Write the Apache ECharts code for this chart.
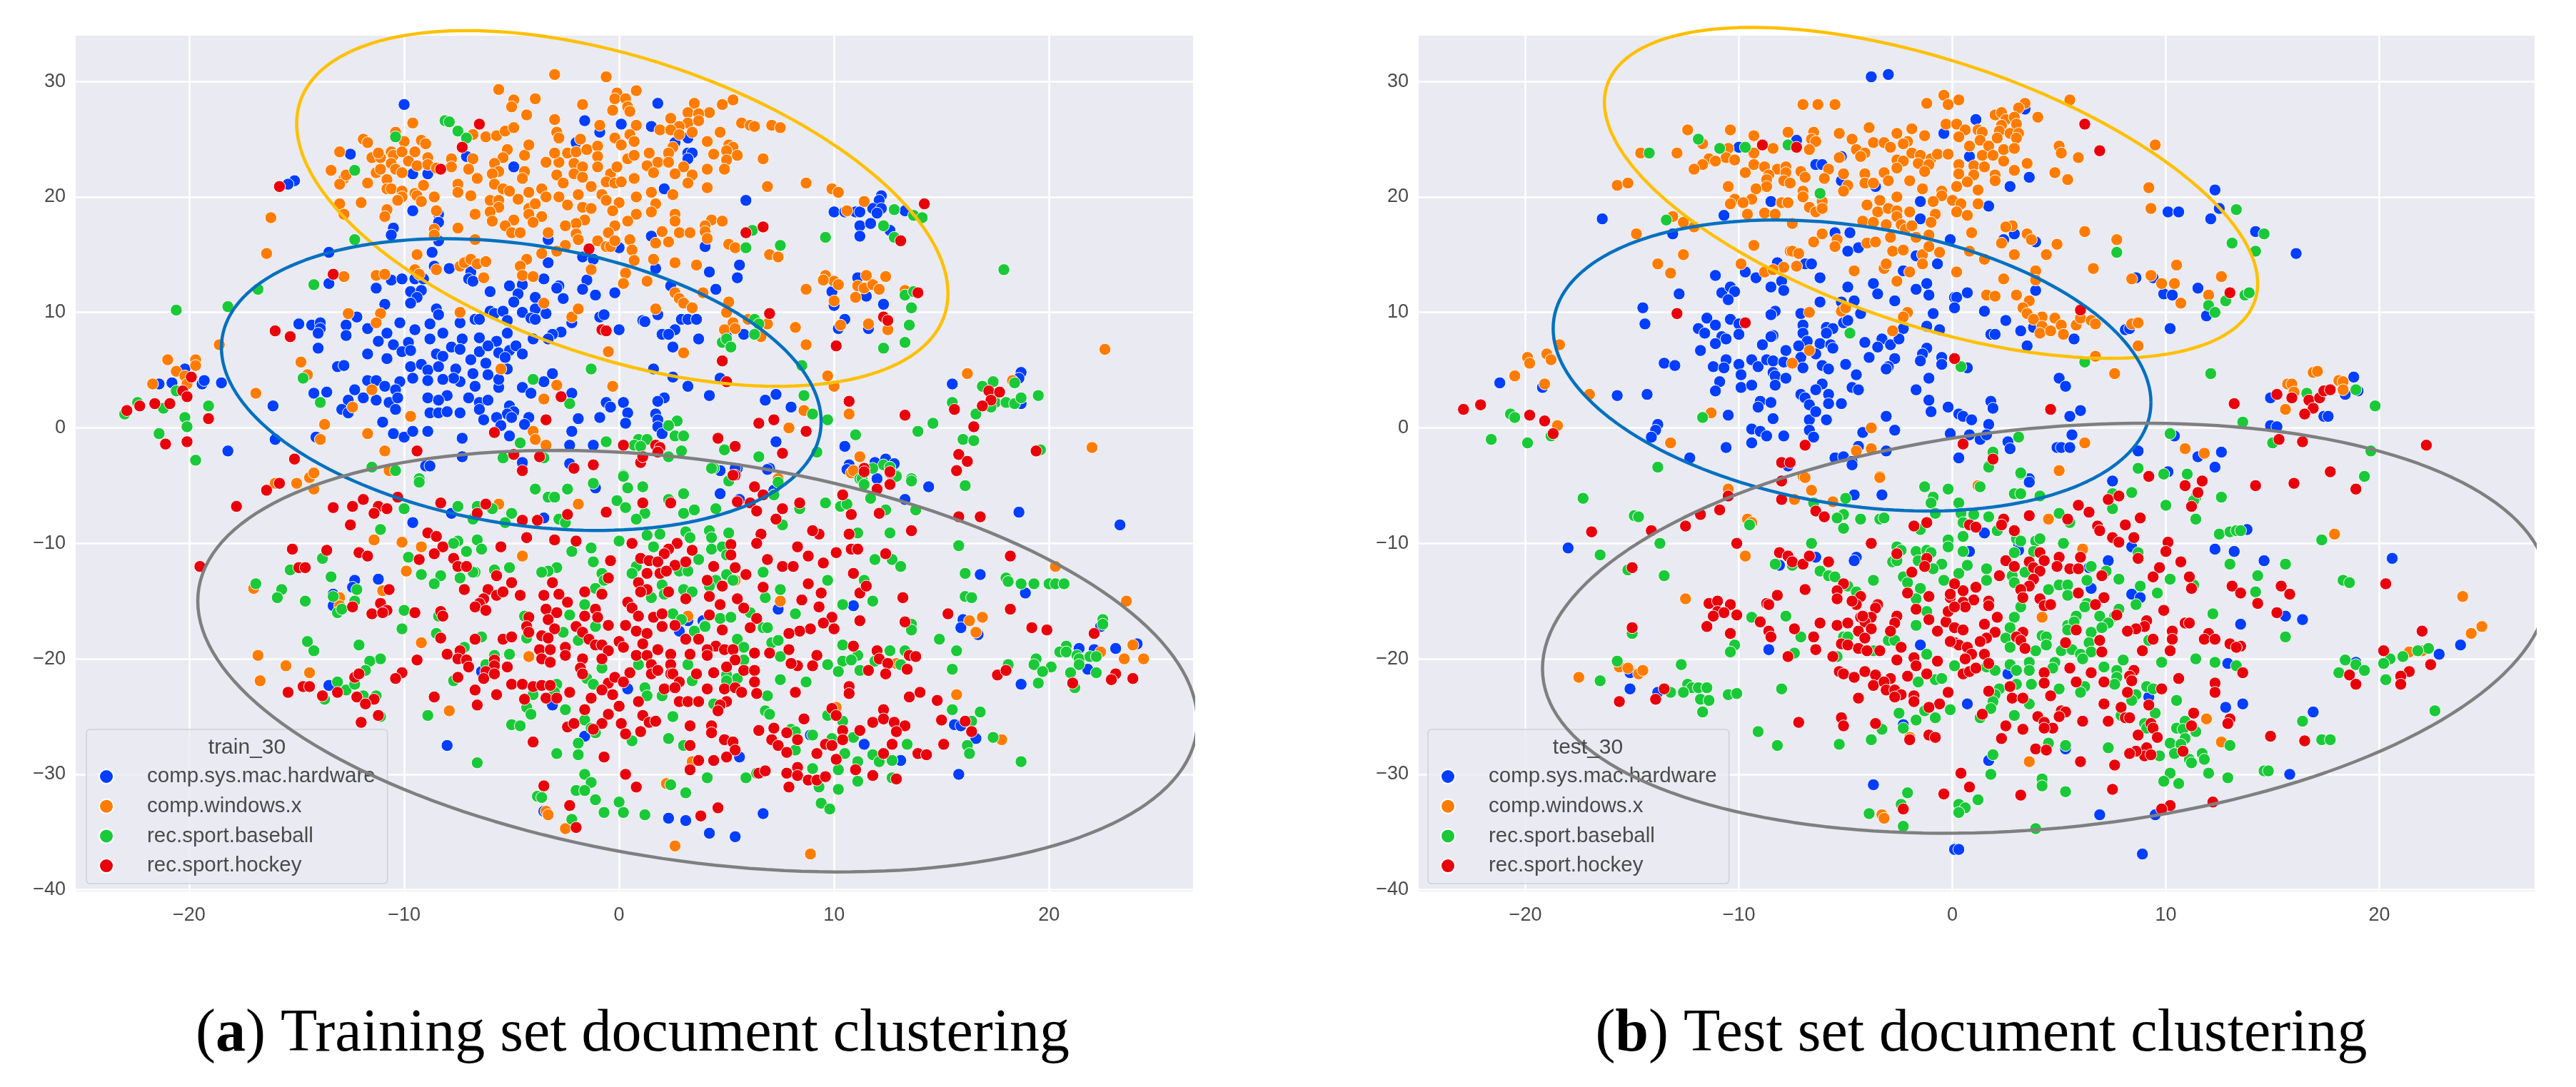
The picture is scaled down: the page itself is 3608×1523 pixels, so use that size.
<!DOCTYPE html>
<html><head><meta charset="utf-8"><style>html,body{margin:0;background:#fff}#c{width:3608px;height:1523px}</style>
<script src="https://cdn.jsdelivr.net/npm/echarts@6/dist/echarts.min.js"></script></head><body><div id="c"></div><script>
const categories=["comp.sys.mac.hardware","comp.windows.x","rec.sport.baseball","rec.sport.hockey"];
const colors=["#023eff","#ff7c00","#1ac938","#e8000b"];
const xTicks=[-20,-10,0,10,20];
const yTicks=[-40,-30,-20,-10,0,10,20,30];
const trainMac=[-10,28,-1.6,26.6,.1,26.3,-.9,25.6,-2,24.7,-12.5,23.7,-7.1,23.5,-4.9,22.6,-9.6,22,-8.9,22,-15.1,21.4,-15.4,21.1,-9.6,18.8,-8.4,18.5,-8.4,17.8,-10.5,17.3,-10.6,16.7,-8.4,16.2,-8.7,15.2,-13.5,15.2,-3.3,16.3,0,15.6,-1.7,14.8,-1.2,14.6,-3.3,14.3,-8.6,14,-7.9,13.8,-6.9,13.5,-3.5,12.9,-1.5,12.8,-1.7,12,-5.1,12.3,-4.5,12.4,-2.8,12.3,-2.9,12.1,-7,12.9,-6.8,12.7,-10.6,12.8,-11.3,12.1,-10.1,12.9,-9.5,12.9,-9.1,12.9,-13.5,12.5,-6,11.8,-9.7,11.8,-9.2,11.9,-9.4,11.3,-9.7,10.8,-10.9,10.7,-4.7,11.6,-4.9,10.9,-3.9,11.3,-2.6,11.2,-1.1,11.5,-.2,11.7,-8.5,10.3,-8.4,9.8,-6,10.1,-5.8,9.9,-5.4,10.1,-4.5,10,-3.9,10.3,-3.4,9.9,-12.2,9.6,-14.9,9,-14.3,8.9,-13.9,9.1,-13.9,8.6,-14,8.2,-12.7,8.9,-12.7,8,-11.7,8.6,-10.2,9.1,-8.8,9,-9.5,8.5,-7.4,9.1,-6.7,9.4,-6.5,9.4,-5.2,9.3,-4.1,9.5,-3.9,9.4,-.9,9.6,-.7,9.8,-2.2,9.1,-2.7,8.3,-3.1,8.1,0,8.5,1.1,9.3,-10.8,8.2,-8.8,7.7,-8.2,8.2,-11.2,7.5,-9.8,7.4,-10.5,7.2,-7.3,7.7,-6.5,7.8,-5.7,7.5,-5.2,8.2,-14,6.9,-11.7,6.4,-10.8,6,-10.1,6.6,-9.7,6.7,-8.5,6.4,-8.2,6.2,-7.8,7,-7.4,6.8,-6.5,6.6,-6.1,7.1,-5.6,6.5,-5.1,6.7,-4.8,7.1,-4.5,6.4,-6.9,5.9,-6.2,5.6,-5.3,6.1,-4,7.7,-3.3,7.7,-13.1,5.3,-12.8,5.4,-9.7,5.3,-9.2,5.5,-8.9,5,-8.4,5.3,-7.6,5.1,-6.8,4.7,-6.1,4.6,-5.2,5.1,-7.4,4,-7.7,4.3,-9.6,4.3,-8.9,4.1,-8.2,4.2,-11.7,4.1,-11.3,4.1,-10.2,4,-12.3,3.3,-10.9,3.6,-10.4,3.3,-14.2,3,-13.6,3.1,-6.7,3.6,-5.6,3.5,-4.5,3.5,-4.1,3,-3.1,4.7,-3.5,4,-2.2,3,-5.6,4.2,-8,2.8,-8.9,2.6,-8.4,2.4,-11.9,2.6,-11.3,2.4,-10.7,2.2,-10.3,2.6,-12.6,2.4,-12.9,1.6,-10.4,1.6,-16.1,1.9,-12.6,1.3,-8.8,1.3,-8.4,1.3,-8,1.4,-7.4,1.3,-7,2.6,-6.5,2.2,-6.1,2.4,-6.5,1.6,-6.3,.7,-5.1,1.9,-4.9,1.4,-5.2,1.2,-5,.9,-5.7,.9,-4.2,.9,-4.4,.3,-5.5,.2,-5.1,-.7,-1.9,.8,-.9,.9,-.6,2.2,-.4,1.8,.2,2.2,.4,1.3,.3,.4,-2.2,-.3,-11,.5,-10.5,-.5,-10,-.8,-9.6,-.3,-8.9,-.3,-14.1,-.8,-16,-1,-7.3,-.9,-2.3,-1.5,-1.2,-1.5,-18.2,-2,-21.4,3.8,-20.8,3.9,-19.4,3.8,-19.3,4.1,-18.5,3.9,-20.2,5.1,-7.3,-2.5,-9,-3.3,-8.8,-3.3,-4.5,-3,-2.3,-3.1,
1.8,28.1,1.5,26.1,3.2,25.1,2.6,24.7,3.2,23.8,3.4,23.8,3.2,23.3,2.1,20.7,5.9,19.7,10,18.7,10.5,18.7,11,18.7,11.2,18.7,12.2,20.1,12.1,19.7,11.8,19,12.2,19,12,18.6,13.3,18.8,11.2,17.5,11.7,17.7,11.2,16.6,12.6,17.1,1.5,16.6,4,15.7,1.7,13.8,4.2,13.5,5.6,14.1,5.5,13,2.4,12.3,4.5,12,11.1,13,9.9,11.8,11.5,11.4,12.3,10.7,10,10.6,1.2,9.2,1.8,9.8,2.9,9.4,3.2,9.4,3.6,9.4,2.6,8.5,2,8.1,2.3,8.1,3.7,7.7,2.5,7,5.8,8.1,5,7.9,10.5,9.4,10.2,8.6,11.6,8.6,1.6,5.1,2.5,4.4,4.7,4.3,3.2,3.6,4.2,2.8,18.7,4.8,18.6,4.3,15.5,3.8,7.3,2.9,6.8,2.4,8,1.8,2.1,2.6,1.8,2.3,1.7,1.2,1.8,.7,1.8,.1,2,-.5,7.3,-1.2,10.5,-1.6,10.7,-3.2,11.9,-3,12.4,-2.7,12.8,-3.1,12,-4.4,7,-3.5,4.7,-3.7,5.5,-3.5,18.7,2.1,
-7.8,-7.4,-9.6,-8.2,-3.5,-7.8,-1.1,-5.2,-12.3,-13.2,-11.2,-13.1,-12.4,-13.8,-13.3,-14.4,-13.3,-15.4,-6.4,-21.1,-13.5,-22.3,-3.1,-24,-1.6,-26.7,-8,-27.5,-3.5,-33.2,
4.7,-3.7,5.4,-3.5,6.9,-3.6,10.6,-3.6,12,-4.4,14.4,-5.1,4.7,-5.7,5.6,-6.2,13.3,-6.2,7.2,-5.4,18.6,-7.3,23.3,-8.4,16.8,-12.7,18.9,-14.3,7.4,-15.7,10.9,-15.4,3.2,-16.7,2.8,-17.6,3.9,-16.7,16,-16.6,15.9,-17.3,16.7,-17.9,22.4,-17.2,21.4,-19.1,22.1,-19.2,23.1,-19.1,24.1,-18.7,21.8,-20.9,18.7,-22.2,.4,-22.6,15.6,-25.7,15.9,-25.8,16.6,-26.9,8.9,-26.6,11.4,-27.4,5.6,-28.5,13.1,-28.8,15.8,-30,6.7,-33.4,2.3,-33.8,3.1,-34,4.2,-35.1,5.4,-35.4];
const trainWin=[-3,30.6,-.6,30.4,-5.6,29.3,-3.9,28.5,-4.9,28.4,-5,27.8,-4.3,27.1,-1.7,28,-.1,29,.8,29.2,-.2,28.5,.3,28.5,.4,27.8,-.3,27.5,.5,27.4,-3,26.7,-.9,26.2,.8,26.2,-2.9,25.6,-2.8,25.1,-9.6,26.4,-10.4,25.6,-11.9,25,-11.7,24.7,-13,23.9,-13.4,22.3,-12.8,21.6,-13,21.1,-12.7,21.9,-11.7,21.2,-11.3,22.1,-11.1,22.4,-11.5,23.4,-11.1,23.4,-11.2,23.8,-10.6,23.9,-10.5,23.6,-10.6,22.9,-10.4,22.4,-10.1,22.1,-10,24.8,-9.2,24.9,-9,24.6,-10.1,23.9,-9.5,23.9,-8.9,23.4,-9.8,23.1,-9.4,22.7,-8.9,22.8,-8.5,22.5,-7.8,23.3,-7.8,22.6,-10.8,21.5,-10.8,20.7,-10.6,20.7,-9.1,21,-10.1,20.5,-10.1,20,-10.3,19.7,-9.5,20.3,-9.4,20.1,-9.2,19.6,-8.6,20,-13,19.4,-12,19.5,-12.8,18.5,-10.8,18.9,-10.9,18.3,-8.5,18.8,-6.7,18.5,-7.5,17.3,-8.6,17.2,-8.6,16.7,-6.7,16.3,-16.2,18.2,-16.4,15.1,-9.4,15,-9.5,13.7,-9.3,13.3,-8.5,13.7,-11.3,13.2,-10.9,13.3,-12.8,13.1,-7.4,14,-7.2,14.3,-6.9,14.6,-6.6,14.2,-6.2,14.4,-6.3,13,
-6.8,23.3,-7,22.4,-6.6,21.6,-7.5,21.1,-7.5,20.4,-6.9,20.1,-6.8,25.4,-6.2,25.2,-5.7,25.3,-5.3,25.7,-4.9,26,-5.2,24.1,-5.4,23.4,-4.4,23.6,-4.2,24.5,-5.8,22.9,-5.6,22.2,-5.9,22,-5.8,21.1,-5.4,20.7,-5.1,20.5,-4.4,22.2,-4.5,21.6,-4.2,20.4,-4.7,19.8,-6,19.7,-5.6,19.7,-5.6,19.1,-6,18.7,-5.9,17.9,-4.9,18,-5.3,17.5,-5,16.9,-4.6,16.9,-4.2,19,-4.2,18.5,-3.9,19.4,-3.6,20.7,-3.4,20,-3.6,18.3,-4,17.8,-3.3,16.9,-3.4,23,-2.8,23,-3,23.8,-2.4,23.8,-2,23.9,-1.5,24.1,-1.8,25,-1,24.4,-.2,25.1,.5,25.4,.7,24.8,.1,24.5,-2.1,22.9,-1.7,22.6,-1,23.5,-1,22.6,-2.1,22,-2.9,21.9,-2.6,21.2,-1.7,21.7,-1.3,20.9,-1.9,20.2,-2.8,20,-2.4,19.3,-1.7,19.1,-1.3,19,-.4,22,-.6,21.3,-.2,21.2,.1,21.3,-.8,20.2,-.6,19.7,0,19.5,-.3,18.8,.8,20,.8,18.5,.7,21.6,.4,23.3,.7,23.6,-.1,22.6,-1.6,18,-2,17.7,-2.5,17.5,.4,17.9,-.2,17.5,-.5,16.9,-2,16.8,-1.9,16.3,.5,16.3,-1,16.2,-.6,15.7,-.4,15.7,-.2,16.2,.6,15.4,-2.5,15.8,-3.6,15.1,-2.9,15.3,-4.3,14.6,-4.6,14,-4.5,13.2,-4,13.1,-1.3,13.7,.7,14.5,.3,13.4,.2,12.5,-3.5,10.8,-7.4,10,-2.2,9.6,-1.9,10.3,-12.6,9.9,-11.1,9.9,-11.3,9.1,-.5,6.6,-18.6,7.2,-14.8,5.7,-14.5,4.6,-21,5.9,-19.7,5.9,-19.7,5.4,-20.6,4.9,-20.2,4.5,-21.7,3.8,-20.1,3.8,-16.9,3,-5.5,5.1,-11.5,3.3,-12.4,1.8,-9.7,1,-2.9,3.7,-.3,3.6,-3.5,2.5,-13.7,.3,-11.7,-.5,-13.9,-1,-10.9,-2,-4,-.3,-3.9,-1,-3.4,-1.5,
3.5,28.1,4.8,28,5.3,28.4,4.2,27.3,3.2,27.3,3.7,27.2,2.4,26.8,3.2,26.4,2.8,26.1,3.7,26.6,1.9,25.8,2.4,25.8,2.8,25.4,3.4,25.6,4.7,25.6,5.7,26.4,6.1,26.2,6.3,26.1,7.1,26.2,7.5,26,4.1,24.8,5.1,24.5,5.3,24.3,5,24,5.5,23.6,4.4,23.7,1.4,23.8,2.5,24.3,2.3,23.8,6.7,23.3,5,23.2,1.8,23,2.3,23,1.3,22.7,3,22.6,4.1,22.4,4.9,22.4,1.6,22.1,2.6,22,3.4,21.9,3.2,21.2,4.1,20.8,6.9,20.9,1.5,20.4,2.5,20.2,8.7,21.2,9.9,20.7,10.2,20.4,1.7,19.4,1.5,18.7,2.6,18.5,2.6,17.9,4.3,18,4.8,17.9,4,17.5,4,17,4.1,16.4,2,17,2.8,16.9,3.3,16.9,2.3,16.1,1.7,16,5.1,15.9,5.4,15.6,7,15,7.4,14.8,1.6,14.6,2.6,14.3,3.6,14.1,11.4,19.6,10.6,18.8,9.6,13.2,10,12.7,9.5,12.8,10.2,12.4,8.7,12,10,11,11.1,12.3,11.4,12.1,11.8,12.4,11.5,13.2,12.4,13.1,11,11.3,12.1,12,13.3,11.9,1.3,12.7,2.6,11.7,2.8,11.2,3,10.8,3.4,10.4,1.7,10.3,3.9,11.7,5.1,10.9,5,10,5.3,9.1,4.9,8.5,5.4,8.6,6,9.4,6.9,9,8.2,8.7,10.3,8.9,11.6,9,12.5,8.5,8.7,7.2,3,6.5,6.6,7.9,9.7,4.5,10,3.6,16.2,4.7,18.3,4.1,22.6,6.8,8.6,1.5,10.7,1.2,7.9,0,22,-1.7,11.2,-2.5,10.8,-3.9,
-16,-4.8,-15,-4.8,-14.4,-4.3,-14.2,-3.9,-14.2,-5.3,-10.7,-3.7,-5.6,-6.6,-1.9,-6.6,-11.4,-9.7,-10.1,-9.9,-9.2,-10.3,-4.5,-11.1,-9.9,-12.4,-17,-13.9,-13,-14.7,-13,-15.4,-11,-14.1,-9.2,-18.6,-16.8,-19.7,-15.5,-20.6,-14.4,-21.2,-16.7,-21.9,-4.2,-19.8,-7.9,-24.5,-3.4,-33.2,-3.3,-33.5,-2.5,-34.7,
10.9,-3.7,7.4,-4.4,20.3,-12,23.6,-15,5.4,-13.2,7.5,-15,3.2,-16.3,16.3,-16.7,16.9,-16.4,16.6,-17.7,23.9,-18.8,22.4,-19.4,23.5,-20,24.4,-20,12.9,-20.4,15.7,-23.1,10.1,-24.2,17.8,-27,3.4,-28.9,2.2,-30.8,2.6,-36.2,8.9,-36.9];
const trainBase=[-8.1,26.6,-7.9,26.5,-7.5,25.7,-7.1,25.1,-10.4,25.2,-12.3,22.3,-12.3,16.3,-16.8,12,-14.2,12.4,-20.6,10.2,-18.2,10.5,-14.7,4.3,-20.6,3.2,-22.4,2.2,-21.2,1.7,-23,1.2,-19.1,1.9,-20.2,.9,-20.1,.1,-21.4,-.5,-19.7,-2.8,-13.9,2.2,-4,4.2,-2.3,2.1,-1.3,5.1,-4.6,-1.3,-5.4,-2.6,-3.5,-2.6,-.6,-1.2,.9,-1,.7,-1.5,-11.5,-3.4,-10.4,-3.7,-9.3,-4.4,.2,-4.1,
12.8,18.9,13.7,18.4,14.1,18.2,12.3,17.5,12.8,16.5,9.6,16.5,6.2,17.1,5.9,15.6,7.5,15.8,17.9,13.7,13.3,11.5,13.7,11.8,13.6,10.4,13.5,8.9,13.3,7.4,12.3,6.9,6.3,9.4,6.5,9,6.3,8.1,4.8,7.4,5,7.7,5.2,7,8.5,5.4,8.6,2.8,9,1.2,9.7,.7,2.7,.6,2.3,.2,2.6,-.7,3,-.7,1.3,-1,1,-1.6,2.9,-2,2.3,-2.5,4.9,-1.9,6.5,-2.5,4.4,-3.5,9.2,-2.1,11,-.6,13.9,-.3,14.6,.4,15.5,2.2,16.6,1.2,16,-1,16.5,-1.1,16.9,3.6,17.4,4,18.4,3.9,17.5,2.2,17.3,1.8,18,2.2,18.4,2.1,18.7,2.6,19.5,2.8,19.6,-1.9,12.3,-3.2,12.6,-3.4,12.9,-4.1,11.2,-4.4,13.6,-4.4,
-9.3,-4.7,-3.9,-5.3,-3.3,-6,-3,-6,-2.4,-5.3,-1.2,-4.8,-7.5,-6.8,-10,-7,-6.6,-6.8,-5.9,-7,-5,-7.4,-6.8,-7.9,-5.3,-8.2,-2.8,-7.9,-2.5,-8.2,-11.1,-8.8,-7.5,-9.8,-6.6,-9.7,-7.7,-10,-7.1,-10.7,-6.4,-10.5,-9.8,-11.2,-13.8,-11.3,-15.3,-12.3,-1.3,-10.4,-2.2,-10.7,-1.2,-11.6,-5.1,-12.1,-5.8,-12.3,-6.7,-12.5,-2.9,-12.1,-3.3,-12.4,-3.6,-12.5,-.8,-12.6,-.7,-13.2,-1.1,-13.9,-13.4,-12.9,-9.2,-12.7,-8.3,-12.8,-8.6,-13.5,-7.4,-13,-6.8,-12.5,-16.9,-13.5,-15.7,-14,-15.9,-14.7,-14.6,-15,-13.3,-14.6,-12.2,-14,-12.3,-15,-13.1,-16,-12.9,-15.7,-10,-15.8,-10.1,-17.4,-8.4,-16.3,-8.5,-17.8,-6.4,-18.1,-4.4,-16.3,-2.3,-16.2,-1.6,-15.3,-.8,-14.3,-1.1,-17.2,-2.6,-17.7,-4.3,-18.2,-1.9,-18.4,-14.5,-18.5,-14.2,-19.3,-12.1,-18.8,-7.2,-19,-5.1,-19.6,-5.8,-19.7,-11.1,-20,-11.6,-20.2,-11.8,-21,-6.2,-20.5,-.8,-20.8,-1.5,-21.7,-1.2,-22.2,-13.1,-22,-12.7,-22.7,-12.3,-22.2,-7.7,-21.9,-13.7,-23.5,-11.9,-23.2,-11.3,-23.2,-4,-23.1,-2.9,-22.2,-3,-22.9,-4.3,-24.2,-4.1,-24.8,-2.5,-24.4,-11.1,-25,-8.9,-24.9,-5,-25.7,-4.6,-25.8,-1.6,-25.3,-1.3,-26,-1.1,-26.4,-1.9,-27.3,-2.9,-28.2,-1.9,-28.3,-6.6,-29,-1.6,-30,-1.3,-30.7,-2,-31.4,-1.6,-31.4,-3.8,-31.9,-3.6,-32,-1.1,-32.2,-.7,-33.3,-2.2,-33.9,
4.3,-3.5,5.1,-4.6,.2,-4.2,.4,-5.2,1.1,-5.1,-.1,-6.3,.3,-6.9,1.2,-7.4,.8,-7.9,2.3,-6.2,3,-5.7,3,-7.4,3.5,-7.1,4.5,-7,7.2,-5.8,7.4,-4.7,11.3,-4.4,11.4,-4.9,11.8,-3.5,13.6,-4.6,16.1,-5,12.9,-4.2,9.6,-6.5,10.3,-6.8,10.6,-6.6,11.7,-6.1,12.4,-7.1,13.8,-7.1,7.6,-8.4,8.4,-7,11.1,-9.1,12.6,-9.1,1.3,-9.3,1.9,-9.2,1.6,-10.3,0,-9.8,3.1,-9,3.3,-9.5,4.2,-8.9,4.3,-9.5,5.1,-9.1,4.3,-10.5,4.8,-10.3,5,-11,3.7,-11.4,15.8,-10.2,11.9,-11.4,12.7,-11.4,13.1,-12,.8,-12,.6,-12.6,2.8,-12.4,3.2,-12.4,6.7,-12.5,4.5,-13.2,5,-12.7,4.2,-13.7,5.3,-13.2,16.1,-12.6,11.4,-13.2,9.7,-13.2,18,-13,18.1,-13.3,18.7,-13.5,19.3,-13.5,20,-13.5,20.3,-13.5,20.7,-13.5,2,-13.6,3,-14,3.4,-14.2,2.1,-14.4,1.5,-14.7,7.5,-14,6.8,-14.7,11.8,-15,10.4,-15.3,16.1,-14.6,16.4,-14.7,8.2,-16.1,2.5,-16.1,2.9,-16.6,4,-17.1,4.7,-16.5,5.2,-16.4,6.1,-16,6.7,-17.3,6.9,-17.3,3.5,-17.6,4,-17.2,13.6,-17,13.6,-17.5,22.5,-16.6,22.5,-17,14.9,-18.3,5.5,-18.3,5.8,-19,7.1,-18.6,7.4,-18.4,10.4,-18.8,11.1,-19.7,12.6,-19.3,13.3,-19.3,15.7,-19.3,20.8,-18.9,20.5,-19.4,20.8,-19.4,21.3,-19.7,21.4,-20,21.9,-19.8,22.2,-19.8,21.4,-20.5,19.4,-20,19.3,-20.5,20.1,-20.7,19.7,-21.1,18.1,-20.5,21,-21.2,22.2,-21.2,19.5,-22.1,21.2,-22.5,15.5,-20.9,7.5,-19.8,5.8,-20.1,9.7,-20.5,10.4,-20.2,10.8,-20.1,10.2,-21.1,11.2,-21,11.9,-20.2,13.1,-20.5,7.5,-21.8,8.7,-22,3.2,-20.5,.9,-20.5,3.4,-21.9,5,-21.4,5.5,-21.7,5,-21.9,1.2,-22.5,1.3,-23.2,2,-23.2,6.9,-23.2,6.8,-24.5,7,-24.8,4.4,-23.9,2.5,-25,15.5,-24.4,16.8,-24.6,16.4,-25.4,10.4,-25.4,9.7,-24.9,8,-26.1,8.2,-26.3,9,-26.6,.6,-27.1,2.3,-26.9,3,-27.5,10.9,-26.8,9.9,-26.9,10.5,-28.2,13.4,-27.4,16.2,-27.5,16.3,-28.2,17.4,-26.8,8.2,-27.9,11.8,-28.3,12.1,-28.9,12.7,-28.8,11.1,-28.9,18.7,-28.9,10.2,-29.6,9,-29.5,4.1,-30.3,5.9,-30.3,6.4,-29.9,11.1,-30.6,12.7,-30.3,2.4,-30.9,3.1,-31.6,9.3,-31.1,10.2,-31.3,0,-32.4,.2,-33.3,1.2,-33.5,9.4,-32.5,9.8,-33];
const trainHockey=[-6.5,26.3,-7.3,24.3,-8.3,22.4,-15.8,20.9,-1.4,15.5,-13.3,13.3,-16,8.4,-15.3,7.9,-.8,8.5,-.6,8.4,-19.9,4.4,-20.3,3.2,-20.1,2.7,-21.6,2.1,-20.9,2.1,-22.3,1.9,-22.9,1.5,-19.1,.8,-21.1,-1.4,-20.1,-1.2,-2.7,2.7,-3.4,.7,-5.8,-.4,-9.4,-2,-15.1,-2.7,-4.9,-2.3,-3.7,-2.5,.2,-1.5,-2.1,-3.5,-1.2,-3.2,-4.5,-3.7,1,-3,
14.2,19.4,13.1,16.2,6.7,17.4,5.9,16.9,13.9,11.7,7,9.9,12.3,9.6,12.5,9.3,10.1,7.1,4.8,5.8,5,4,17.2,3.2,17.7,3.1,17.3,2.4,16.9,1.9,15.6,1.6,13.3,1.1,10.7,2.3,6.5,.4,7.2,.7,8.7,-.3,16.5,.1,4.6,-.9,5.4,-1.6,1.7,-1.5,1.9,-1.7,1.8,-2.1,1.1,-2.5,7.6,-2.2,19.4,-2,15.8,-2.3,16.2,-2.9,15.7,-3.7,11.4,-3.5,12.6,-3.9,5.4,-4.1,
-16.4,-5.4,-15.8,-4.8,-17.8,-6.8,-13.3,-6.9,-12.4,-6.8,-11.9,-6.2,-11.2,-6.8,-10.8,-7,-11.4,-7.4,-12.5,-8.4,-10.3,-6,-8.3,-6.5,-6.6,-7.4,-6.2,-6.6,-4.5,-8,-3.8,-8,-2.4,-7.5,-.6,-7.3,-8.9,-9.1,-8.5,-9.4,-8.2,-10.3,-8.6,-10.9,-9.3,-11.4,-5.5,-10.3,-4.3,-9.5,-3,-9.7,-2,-9.8,-15.2,-10.5,-13.6,-10.6,-12.1,-10.8,-11.7,-11.1,-14.9,-12.1,-14.6,-12.1,-19.5,-12,-7.7,-11.3,-7.5,-12,-7.1,-12,-7.2,-14,-5.7,-12.8,-5,-13.4,-6.1,-14,-5.7,-14.5,-5.4,-14.2,-4.6,-14.5,-6.3,-14.8,-6.5,-15.2,-6.7,-15.5,-6.2,-15.8,-3.1,-13.4,-3.5,-14.5,-2.8,-14.4,-2.4,-15.1,-1.6,-14.2,-.8,-14.4,-.5,-13,-.4,-11.5,-10.7,-14,-11.1,-15.2,-10.8,-15.8,-11.5,-16.1,-11,-16,-12.4,-15.5,-9.5,-16,-8.3,-15.9,-8.2,-16.3,-3.4,-15.7,-2.9,-16,-3.3,-16.6,-4.2,-16.4,-1.6,-16.3,-1.1,-15.7,-1,-16.4,-.5,-17.1,-4.3,-17.2,-4.2,-17.7,-3,-17.4,-3.6,-18,-3.3,-18.2,-2,-17.2,-1.7,-17.7,-1.4,-18.3,-1.1,-18.8,-.8,-18.8,-.5,-19.3,-8.3,-18.2,-6.7,-18.3,-5.4,-18.3,-5,-18.1,-3.7,-19.2,-3.2,-19.2,-2.5,-19,-2.5,-19.7,-7.4,-19.3,-8,-19.6,-9.4,-20.1,-7.5,-20,-7.1,-20.1,-7,-20.7,-5.8,-20.1,-5.8,-20.6,-6.2,-21.1,-5.2,-20.7,-3.6,-20,-3.2,-20.3,-1.7,-20,-.8,-20,-1.8,-20.8,-1.7,-21.3,-10.1,-21.2,-10.4,-21.7,-12.3,-21.6,-12.1,-21.3,-7.5,-21.6,-6.3,-21.7,-5.8,-21.3,-5,-22.2,-4.5,-22.2,-4,-22.4,-3.6,-22.3,-3.2,-22.3,-.5,-22.1,-.8,-22.7,-14.7,-22.4,-14.4,-22.4,-15.4,-22.9,-13.8,-23.2,-13.1,-22.9,-12.2,-23.3,-11.4,-23.5,-11.8,-23.9,-6.7,-22.7,-5.7,-23.1,-8.6,-23.3,-6.6,-24,-4.4,-23.5,-3.4,-23.4,-2.9,-23.4,-2.3,-22.9,-1.3,-23.4,-1.6,-24.4,-.5,-24.8,-11.2,-24.9,-12,-25.5,-2.4,-25.9,-2.1,-25.6,-.8,-25.6,-1.2,-26.1,-4,-27.2,-.7,-28.5,-3.5,-31,-2.3,-32.7,-2,-34.6,
5.3,-4.1,6.3,-5.1,6.7,-5.8,10.4,-5.8,11.4,-3.8,12.6,-3.8,15.7,-3.7,12.6,-4.9,12,-5.3,1.1,-6.5,2.4,-6.5,5.5,-6.4,6.1,-6.5,6.4,-7.2,7.6,-7,7.3,-7.9,8.4,-6.5,10.8,-7.5,12.1,-7.4,15.8,-7.7,16.8,-7.7,13.6,-8.9,10.7,-9.2,9.3,-9.2,9,-8.9,6.6,-9.2,.6,-10,2.7,-10,2.3,-10.5,2.1,-10.9,3.4,-10.6,5.2,-10.1,6.4,-10,5.2,-11,8.3,-10.3,8.8,-11.1,9.5,-11.7,10.1,-10.8,10.8,-10.5,11.1,-10.5,12.4,-10.9,18.2,-11.1,1,-11.3,1.4,-11.5,1.8,-11.6,2.6,-11.9,3.1,-11.6,4.4,-12,5.4,-12.1,6.9,-11.4,7.6,-12,8.1,-12,5.9,-12.7,1.3,-12.6,1.9,-12.6,2.2,-12.4,10.9,-12.6,4.1,-13.2,4.8,-13.7,.9,-13.4,1.3,-14,1,-14.2,2.3,-14.2,6.7,-13.8,8.8,-13.5,9.4,-14.3,11.2,-14.3,11.5,-13.7,4.2,-14.6,3.1,-14.8,8.5,-14.9,9.3,-15.5,5.5,-14.8,5.8,-15.6,4.7,-15.3,13.2,-14.7,18.2,-15.7,15.3,-16.1,.4,-15.1,.6,-15.6,.9,-16.3,1.6,-16.4,2,-16.1,2.6,-17.1,4.2,-16.2,6.4,-16.5,13.3,-16.8,11.2,-16.7,9.9,-16.4,9.5,-16.9,10,-17.4,8.9,-17.4,8.4,-17.6,7.9,-17.8,6.1,-17.3,4.8,-17.5,.3,-17.1,.8,-17.6,1.3,-17.8,2,-17.2,19.2,-17.3,19.9,-17.5,22.1,-17.8,3.1,-18.3,3.7,-18.3,0,-18.5,.2,-19,1.1,-18.7,1.8,-19.2,10.9,-18.9,12,-19.3,13.5,-19.7,13.8,-19.8,7.9,-19.2,7,-19.5,6.3,-19.5,4.5,-18.9,4.9,-19.2,5.3,-19.2,4.1,-19.2,2.4,-19.6,3.3,-19.6,4.1,-19.7,.8,-19.7,1.3,-19.7,5.4,-20.1,9.2,-19.7,9,-20.6,8.3,-20.6,8,-20.4,12.1,-20,12.5,-20.4,13.4,-20.9,11.6,-21,12.4,-21.3,17.6,-21.4,18,-21,23.1,-21.3,22.9,-21.8,23.9,-21.7,21.1,-22.1,1.5,-20.5,2.4,-20.5,1.5,-21.3,2.4,-21.3,.5,-21.2,1.8,-21,2.5,-21.3,3.6,-21.3,4.4,-21.2,5,-20.7,5.8,-21,6.3,-21,-.2,-21.6,.2,-22,2.8,-22,6.3,-22,2.1,-22.6,2.6,-22.5,4.1,-22.6,4.9,-22.6,5.4,-22.5,6.4,-23,5.7,-22.9,8.2,-22.9,10.7,-22.4,10.7,-23,13.5,-23.3,14,-22.9,14.8,-23.6,-.3,-23.1,.9,-23.7,2.8,-23.7,3.2,-23.7,3.7,-23.7,5,-23.7,4.7,-24,4.6,-24.5,0,-24.1,9.9,-24.3,10.1,-24.9,12.3,-24.4,1.1,-24.9,1.4,-25.5,1.7,-25.4,.1,-25.6,3.3,-25.8,4.3,-25.8,8.6,-25.2,11.8,-25.5,12.3,-25.2,12.8,-25.5,13.3,-25.8,12.9,-26.3,15,-25.3,16.1,-25.4,16.4,-26.3,11.2,-26.2,10.4,-26.2,6.5,-26.2,7.2,-26,7.8,-26.4,.3,-26.5,1,-26.3,4.3,-26.4,4.9,-27,5.3,-27.2,8.3,-27,10.4,-27,7.1,-27,7.4,-27.5,7.8,-28.1,3.3,-27.5,9.6,-27.4,9.9,-27.5,12.7,-27.4,15.1,-27.4,9.2,-28.2,10.1,-28.7,12.3,-28.2,13.9,-28.2,14.3,-28.3,5.4,-27.9,5,-28.5,4.4,-28.8,3.7,-28.8,3.3,-29.6,.3,-30,6.5,-29.9,6.8,-29.7,8.3,-29.4,7.8,-29.9,8.3,-30.1,8.8,-30.5,9.2,-30.5,9.6,-30.2,7.9,-31.1,11,-29.6,11.8,-30.1,12.9,-30.4,.8,-31.1,4.6,-32.9,3.8,-33.6];
const testMac=[-3.8,30.4,-3,30.6,-.4,25.5,-7.3,24.9,-10,24.3,-5.2,23.5,-6.4,22.8,-6.1,22.8,-5.2,21.4,-3.6,20.9,-8.5,19.6,-1.5,19.6,-1.5,18.1,-10.7,18.4,-16.4,18.1,-13.1,16.8,-5.5,16.9,-4.8,16.9,-4.4,15.6,-4.9,15.3,-.1,16.3,-1.7,14.9,-.7,14.2,-8.2,14.3,-6.9,14.2,-6.6,14.2,-9.7,13.5,-9.2,13,-11.1,13.2,-8,12.7,-8.5,12.2,-7.9,11.9,-6.2,13,-4.9,12.2,-3.7,12.5,-3.5,11.6,-2.3,13.6,-1.2,12.5,-1.7,12,-1.1,11.5,-12.8,11.6,-10.8,11.7,-10.4,12.2,-10.2,11.8,-10.5,11.1,-6.2,10.9,-2.7,11,-4.6,11,-5.2,10.9,.1,11.3,.1,10.4,-14.5,10.4,-14.4,9,-8.3,10.1,-8.5,9.8,-7.1,9.9,-4.3,9.9,-.9,9.9,-11.5,9.5,-10.4,9.4,-10,9,-5.1,9.1,-4.9,9.3,-11.1,8.9,-11.9,8.6,-11.6,8.2,-10,8.1,-7,8.9,-7,8.2,-5.9,8.7,-5.6,8.6,-5.9,8.2,-2.3,8.6,-1.2,8.8,-.6,8.5,-10.8,7.9,-10.6,7.7,-11.1,7.3,-8.4,8,-8.5,7.9,-8.9,7.2,-6.8,7.5,-7.2,7.1,-6.2,7.3,-5.7,7.2,-5.6,6.9,-4.1,7.4,-3.3,7.7,-3.5,7,-2.9,7.2,-2.5,7.7,-11.8,6.7,-7.8,6.7,-7.1,6.1,-6.4,6.4,-1.2,6.9,-1.4,6.4,-1.5,5.8,-3.9,6.1,-2.7,6,-.5,6.1,-.5,5.5,-13.5,5.6,-13,5.4,-10.6,5.9,-11.2,5.3,-10.7,5.2,-10,5.5,-9.4,5.9,-9.1,5.3,-8.7,5.9,-8.4,5.8,-7.9,5.7,-7,5.2,-6.1,5.4,-5.8,5.1,-5,5.5,-3,5.3,-3.1,5.1,-9.9,4.6,-8.4,4.8,-8.3,4.5,-7.8,4.3,-8.3,3.7,-4.5,4.6,-1.1,4.3,-10.9,4,-11.1,3.2,-9.9,3.5,-9.4,3.7,-6.1,3.8,-6.4,3.3,-4.7,3.5,-4.4,3.3,-1.7,3.3,-21.2,3.9,-19.2,3.5,-15.7,2.8,-14.3,2.9,-7.1,2.9,-6.9,2.6,-5.8,2.9,-1.1,2.4,-9,2.3,-8.5,2.2,-9.1,1.8,-6.7,2,-5.8,2.1,-5.2,2.1,-.2,1.8,-1,1.4,-10.5,1.1,-8.4,.8,-6.7,.7,-6.4,1.4,-5.9,.7,-3.1,1,-13.8,.3,-13.9,-.2,-14.1,-.8,-9.4,-.1,-9,-.3,-8.7,-.7,-7.9,-.7,-6.7,-.2,-6.5,-.8,-4.2,-.4,-2.7,-.2,-.1,-.5,-10.6,-1.7,-9.4,-1.3,-4.4,-1.6,-3.1,-2,-12.3,-2.6,-5.5,-2.6,-5.1,-2.5,-4.7,-2.9,
1.1,26.7,3.4,27.6,.8,23.5,3.6,21.7,2.7,20.9,1.7,19.2,12.3,20.6,10.1,18.7,10.6,18.7,12.5,19,12.1,18.1,14.2,17,16.1,15.1,2.4,16.3,2.9,16.8,3.9,16.1,8.6,13,9.4,13,9.9,11.6,10.3,11.5,11.5,12.1,11.9,9.7,.7,11.7,.2,11.3,.1,10.4,3.9,11.9,1.5,10.1,2.5,9.3,1.8,8.1,2,8.1,3.2,8.4,3.8,8.7,5.7,7.7,3.5,7.1,8.1,8.5,8.3,8.6,10.2,8.6,.7,5.2,5,4.3,5.3,3.6,18.8,4.4,14.9,2.6,18.4,2.9,19,3.2,17.4,1,17.6,1,1.8,2.3,1.9,1.7,6,1.5,5.5,1,.3,1.2,.5,1,.9,.7,1.7,.3,14.9,.2,15.2,.1,5.6,-.6,.8,-.6,1.3,-1,1.6,-.6,2.6,-1.2,2.7,-1.8,4.9,-1.7,5.1,-1.7,5.5,-1.7,10.4,-.7,8.7,-2,12.6,-2.1,11.5,-2.5,12.3,-3.4,10.1,-3.8,.3,-2.6,3.6,-4.4,
-7.7,-3.3,-4.7,-3.2,-4.6,-5.8,-3.3,-5.8,-18,-10.4,-6.4,-11.2,-4.5,-11.2,-4.6,-11.5,-8.1,-11.9,-8.6,-19.2,-1.5,-18.8,-15.1,-21.2,-15.1,-22.6,-13.8,-22.9,-2.3,-25.7,-3.7,-30.9,.1,-36.5,
3.6,-4.7,7.5,-4.6,13.8,-8.8,1.5,-9.1,8.4,-10.3,12.3,-10.5,13.2,-10.7,.8,-10.7,3.1,-10.1,3.1,-10.6,7.3,-11.5,14.6,-11.5,20.6,-11.3,6.4,-12.1,6.5,-13.9,8.4,-14.4,8.8,-14.7,13.5,-17,15.6,-16.3,16.4,-16.6,23.8,-18.8,22.8,-19.6,12.9,-20.4,18.9,-20.3,2.6,-21.3,9.2,-23.3,.7,-23.9,12.8,-24.2,13.6,-23.9,16.9,-24.6,5.3,-27.8,1.7,-28.8,15.8,-30,9.5,-33.5,6.9,-33.5,.3,-36.5,8.9,-36.9];
const testWin=[-7,28,-6.3,28,-5.5,28,-1.2,28.1,-.4,28.8,-.2,28,-.3,26.3,-3.9,26,-12.4,25.8,-10.4,25.8,-9.3,25.3,-7.7,25.6,-6.5,25.6,-6.6,25,-6.4,24.8,-5.3,25.5,-4.7,25,-2.6,25.5,-1.9,25.9,-1.3,25.3,-11.7,24.6,-3.7,24.7,-3.2,24.7,-2.9,24.3,-2.1,24.8,-2.3,24.6,-14.6,23.8,-12.9,23.8,-10.5,24.2,-8.4,24.2,-6.7,24.1,-9.3,23.8,-4.5,24.1,-4.1,23.8,-4.3,23.5,-1.9,23.8,-1.5,23.6,-1,23.3,-.7,23.7,-.2,23.7,-11.4,23.3,-10.6,23.4,-10.2,23.2,-11.1,23.1,-11.7,22.8,-12.1,22.4,-5.3,23.4,-9.3,22.8,-8.8,22.6,-8.2,22.4,-7.8,22.6,-9.7,22.1,-8.6,21.9,-7.8,22.1,-5.8,22.4,-7.1,22.2,-6.9,21.7,-6,21.6,-5.1,22,-2.6,23.2,-2.3,23.1,-2.6,22.5,-1.6,22.9,-1.1,22.8,-1.3,22.2,-4.1,22,-3.2,22.1,-3,21.4,-4.1,21.2,-3.7,21.2,-2,21.4,-8.7,21.5,-8.7,20.9,-7.9,21.4,-7.6,21.2,-4.9,21,-5.1,20.5,-15.7,21,-15.2,21.2,-10.5,20.9,-9.2,20.7,-7,20.5,-7,20,-1.4,20.7,-.5,20.5,-.5,20.1,-2.6,20,-9.4,19.8,-10.2,19.8,-10.4,19.4,-9.8,19.5,-8,19.5,-7.7,19.5,-6.1,19.6,-6.7,19.1,-6.4,18.7,-6.1,19,-3.4,19.7,-.9,19.6,0,19.7,-4,19.3,-3.5,18.7,-3,19,-2,18.7,-2.6,18.8,-2.6,18.3,-9.6,18.5,-8.8,18.6,-8.3,18.5,-.8,18.5,-4.2,17.9,-3.7,17.8,-3.1,17.6,-1,17.8,-2.4,17.6,-2.2,17.2,-1.9,17.5,-13.1,18.3,-12.6,17.8,-12.1,17.4,-7.5,17.7,-14.8,16.8,-6.1,16.8,-6.5,16.1,-5.4,16.3,-5.5,15.7,-4,16,-3.6,16.1,-2.9,16.5,-1.7,16.5,-1.1,16.7,-9.3,15.8,-7.6,15.3,-7.5,15.3,-7.2,15.1,-2.8,15.3,-2.3,15.4,-1.4,15,-1.1,15.7,-.6,15.2,-12.6,15,-13.8,14.2,-13.2,13.4,-9.9,14.2,-7.9,13.9,-7.3,14,-8.8,13.5,-8.4,13.7,-4.6,13.6,-3.2,13.8,-3.1,14.2,-2,13.5,-1.4,14.2,-2.6,12.7,-5.2,10.1,-5,10.4,-6.7,10,-2.1,10,-2.3,9.6,-2.8,8.4,-6.7,6.7,-7.5,5.6,-18.4,7.2,-19,6.4,-18.8,5.9,-19.9,6.1,-19.8,5.6,-20.5,4.5,-19.1,3.8,-17,2.9,-11.3,1.3,-18.5,.2,-3.8,0,-13.2,-1.3,-4.5,-2,-3.8,-1.8,-7,-4.2,-3.4,-4.2,
.3,28.4,5.5,28.4,3.4,28.1,3.1,27.7,2,27.1,2.3,27.3,2.5,26.7,4,26.9,2.9,26.9,3,26.3,.2,26.3,2.3,26.2,2.2,25.7,2.7,25.5,3.1,25.5,3,25.1,1.2,25.8,1.4,25.6,.6,25.8,.3,25.2,1.3,24.9,2.1,25.1,5,24.4,5.1,23.8,5.9,23.4,9.5,24.5,.8,24.4,1.7,24.4,2.4,24.1,2.9,24.2,1.4,23.6,1.9,23.6,2.4,23.1,3.5,22.9,.3,22.8,1,22.7,1.5,22.6,.3,22,2.9,22.3,1,21.9,2,21.9,2,21.4,.7,21.3,.2,20.9,1.2,20.6,4.8,22.1,5.4,21.5,9.2,20.8,9.3,19,.4,19.4,1.2,19.4,.2,18.7,.7,18.4,2.8,17.5,2.5,17.4,.9,16.9,3.5,16.8,3.7,16.3,2.3,16,4.9,15.9,6.2,17,7.7,16.3,.8,15.3,1.5,14.6,2.9,15,4.4,15,10.5,14.1,.2,13.5,6.6,13.8,3.9,13.6,2.4,12.9,3.9,12.8,9.3,13.2,8.4,12.9,9.8,12.5,10.4,12.5,12.6,13.1,1.6,11.5,2,11.4,3,11.5,3.6,11,3.3,10.4,3.5,9.9,10.7,10.8,12,11.5,4.2,9.6,4.8,9.5,3.8,9.4,5.1,8.9,4.2,8.8,5.8,8.9,6,9.5,6.5,9.3,6.7,9,4.1,8.2,4.6,8.4,5.2,8.1,8.4,9,8.7,9.1,8.7,7.1,6.7,6.2,7.6,4.7,16.9,4.8,17.1,4.9,15.7,3.8,15.9,3.8,16,3.1,18.1,4.1,18.3,4,18.3,3.3,15.6,1.6,6.2,-1.3,10.9,-1.8,11.8,-2.2,5,-3.7,
-10.5,-5.3,-6.9,-4.3,-6.6,-5.4,-7.4,-6.2,-5.6,-6.4,-3.4,-4.3,-9.6,-7.9,-9.4,-8.2,-9.7,-11.1,-12.5,-14.8,-15.6,-20.7,-15.2,-20.8,-14.7,-21.3,-14.5,-21,-17.5,-21.6,-2,-26.8,-3.3,-33.5,-3.2,-33.8,
1.2,-5,4.5,-7.9,6.1,-10.5,17.9,-9.2,23.9,-14.6,4.2,-16.4,24.3,-17.8,24.8,-17.2,21.4,-19.4,22,-19.3,11.9,-25.2,12.6,-27.2,3.6,-28.9];
const testBase=[-14.2,23.8,-11.9,25,-10.9,24.2,-9.7,24.3,-7.7,24.5,-6.2,20.3,-13.4,18,-4.8,8.2,-11.7,.9,-20.7,1.2,-20.5,.9,-21.6,-1,-19.9,-1.3,-18.8,-.7,-13.8,-3.4,13.3,18.9,14.6,16.8,13.1,16,14.2,15.3,7.7,15.2,13.7,11.5,13.9,11.7,12,10.6,12.8,11,12.3,10,.4,5.3,6.2,5.7,12.1,4.7,16.6,3,18.9,3.3,19.8,1.9,13.6,.5,10.2,-.5,3.1,-.8,15,-1.3,19.6,-2,1.9,-2.1,1.7,-3.3,3.2,-4,8.7,-3.5,9.9,-4,11,-4,19.3,-4.2,
-17.3,-6.1,-1.3,-5.1,-.2,-5.3,-.9,-6,-1,-6.5,-5,-6.1,-6.5,-6.5,-.8,-7.4,-14.9,-7.6,-14.7,-7.7,-5.1,-7.5,-5.4,-7.8,-5.1,-8.7,-4.3,-7.9,-3.4,-7.9,-3.2,-7.8,-9.5,-8.4,-1.5,-8.8,-.2,-9.7,-.2,-10.3,-13.7,-10,-16.5,-11,-6.6,-10,-2.6,-10.3,-2.4,-10.6,-1.7,-10.7,-1.2,-10.6,-1,-10.8,-2.8,-11.6,-2.6,-11.5,-1.6,-11.5,-.5,-11.8,-8.3,-11.8,-7.5,-11.9,-15.2,-12.3,-13.5,-12.8,-6.2,-12.4,-5.8,-12.8,-5.5,-12.9,-3.7,-13.2,-2.3,-12.9,-2.1,-13.4,-.9,-12.2,-.4,-13.2,-4.9,-13.7,-4.5,-14.2,-1.5,-13.9,-1.7,-14.8,-1.2,-15.9,-7.8,-16.3,-9.4,-16.4,-1.7,-17.1,-15,-17.8,-7.1,-18.1,-5.1,-18.1,-4.9,-18.1,-3,-18.4,-2.7,-18.4,-10.2,-18.8,-10.4,-19.4,-7.4,-19.5,-3.7,-19.3,-5.4,-19.8,-1.2,-19.6,-15.7,-20.2,-12.7,-20.5,.1,-20.6,-16.5,-21.9,-12.4,-22.2,-12.2,-22.5,-11.9,-22.5,-11.5,-22.5,-12.6,-22.9,-13.2,-22.9,-8,-22.6,-1.6,-22,-.8,-21.8,-.5,-21.7,-10.5,-23.1,-10.1,-23,-11.8,-23.5,-11.4,-23.6,-11.7,-24.6,-2.5,-24.7,-1.7,-25.3,-1.3,-24.5,-.8,-25.1,-.1,-24.4,-9.1,-26.3,-3.3,-26.1,-2.3,-26,-8.2,-27.5,-5.3,-27.4,-3.8,-27,-2.1,-31.6,-2.4,-32.6,-3.9,-33.4,-2.3,-34.5,
1.7,-3.4,3.2,-3.9,1.3,-5.1,8.4,-5.6,7.5,-5.7,12.6,-6,2.9,-5.7,3.2,-5.7,4.1,-5.9,.3,-6.5,7.5,-7,10,-6.7,11.4,-6,11.3,-6.3,11.4,-7.9,5,-7.4,.4,-7.4,1,-7.5,1.7,-7.7,5.5,-8.2,.5,-8.2,2.1,-8.9,12.5,-9.2,13,-9,13.3,-8.9,13.5,-8.9,17.3,-9.7,.5,-9.4,3,-9.6,3.2,-9.8,3.9,-9.8,4.1,-9.6,5.2,-10,.5,-10.7,2.9,-10.8,3.8,-10.7,8.7,-10.8,.7,-11.9,1.6,-12.2,13,-11.8,15.6,-11.8,6.5,-12,7.2,-12.4,3.4,-12.5,.3,-12.6,1.6,-13.2,2.8,-12.8,2.9,-13.4,7.8,-13.1,10.2,-13.1,6.3,-13.2,14.3,-12.8,18.3,-13.2,18.6,-13.4,8.8,-13.7,9.6,-14.3,11.3,-13.6,14.2,-14.2,4.5,-14,5,-13.6,5.4,-13.6,5.4,-14.5,8.6,-15.3,6.3,-15.2,6.2,-15.5,3.2,-15.5,12.2,-16.1,2.9,-16.4,5.8,-16.3,6.9,-16.3,7.8,-15.7,7.6,-16.3,7.3,-16.9,5.4,-17.1,5.7,-16.8,5.4,-17.5,6.5,-17.7,7,-17.3,2.7,-17.3,2.5,-18.2,4.2,-18,4.4,-18.1,15.6,-18.1,6.4,-18.6,2.7,-19,9.2,-18.4,4.4,-18.8,3.9,-19.3,5.1,-19.3,5.6,-19.2,6,-19.6,6.5,-19.4,6.1,-20,22.3,-19.1,21.8,-19.3,21.1,-19.8,20.5,-20,11.4,-20,12.3,-20.3,18.4,-20.1,18.9,-20.5,19.3,-21,18.1,-21.2,20.2,-20.4,9.8,-20.3,13.3,-20.6,8,-20.1,7.1,-20.7,2.7,-20.5,3.6,-20.3,4.8,-20.3,4.7,-20.8,1.6,-20.7,2,-21,.1,-20.6,7.7,-21,7.7,-21.6,7.6,-22.2,3,-21,3.6,-21,20.3,-21.8,3.7,-22.2,3,-22.2,2.2,-22.6,5,-22.6,6.2,-22.4,6,-22.9,9.1,-22.4,9.4,-22.6,2,-23.1,1.9,-23.7,1.8,-24.3,8.6,-23.1,8.4,-23.6,10.5,-23.6,3.6,-23.9,2.9,-24.9,1.3,-25.1,9.5,-24.7,7.9,-24.9,16.4,-25.4,9,-25.6,9.1,-26,10.9,-25.4,10.5,-26,10.8,-26.1,11.4,-26.3,10.9,-26.9,10.2,-27.3,10.7,-27.4,13,-27.5,17.3,-27,17.7,-27,22.6,-24.5,7.3,-27.7,5.3,-27.5,4.5,-27.3,1.9,-28.3,9.7,-28.4,10.4,-28.2,11.7,-28.2,11.8,-28.7,11.1,-28.7,11.2,-29,1.8,-30,4.2,-30.4,4.2,-31,10.2,-29.9,9.9,-30.6,10.6,-30.8,12,-29.9,12.9,-30.3,14.6,-29.7,14.8,-29.7,5.3,-31.5,1.2,-32.2,.3,-32.6,.6,-32.9,.3,-33.3,3.9,-34.7];
const testHockey=[-8.9,24.5,-7.3,24.3,-12.9,9.9,-9.7,9.1,-22.9,1.6,-22.1,2,-19.8,1.1,-19.1,.6,-18.7,-.5,-6.9,-1.5,-8,-3,-7.6,-3,.1,6,6.2,26.3,6.9,24,13,11.7,6,10.2,4.6,1.6,13.2,2.1,15.2,2.9,15.9,2.6,16.7,2.4,17.2,2.6,17.4,3.2,17.7,3.3,16.9,1.7,16.5,1.2,15.3,-1,16.4,-1.2,22.2,-1.5,.5,-1.4,1.9,-2.7,17.7,-3.8,9.2,-4.2,
-8,-4.6,-10.5,-5.9,-8,-6.2,-10.9,-7.1,-11.8,-7.5,-12.5,-8.5,-14.1,-8.9,-16.9,-9,-6.4,-7.2,-6,-7.7,-1.8,-8.5,-1.2,-8.2,-10.1,-10,-3.8,-10,-8.1,-10.8,-7.7,-11.1,-7.5,-11.6,-7,-11.8,-6.7,-11.1,-5.8,-11.6,-15,-12.1,-2.6,-10.9,-1.2,-11.3,-1.3,-12,-1.9,-12.5,-5.1,-13.5,-6.9,-14,-8.2,-14.5,-5.4,-14.1,-5.4,-14.8,-2.1,-14.3,-1.1,-14.6,-.1,-14.7,-11.4,-15.2,-11,-15,-10.4,-15.3,-8.7,-15.2,-8.6,-15.3,-4.3,-14.6,-4.5,-15.3,-4.7,-15,-3.5,-15.3,-3.6,-15.6,-1.7,-15.7,-11,-15.9,-10.7,-16,-11.2,-16.3,-10.1,-16.2,-9,-16.8,-2.6,-16.3,-2.7,-16.9,-2.9,-17.6,-4.3,-16.4,-3.8,-16.4,-4.1,-16.8,-4.2,-16.3,-1.1,-16.6,-.3,-16.8,-.2,-15.9,-11.5,-17.2,-15,-17.3,-10.4,-17.8,-8.6,-17.6,-8.5,-18.1,-7.4,-17.4,-6.2,-16.9,-6.5,-18.1,-5.4,-17.1,-4.9,-16.9,-4.4,-17.6,-3.8,-17.4,-4.1,-18.2,-.7,-17.6,.1,-18.6,-5.2,-18.7,-4.9,-18.8,-6.4,-19.2,-7.7,-19.8,-4.4,-19.1,-4,-19.3,-3.4,-19.3,-2.4,-19,-5.6,-19.8,-2.6,-20.1,-1.8,-19.9,-1.7,-20.6,-.7,-20.2,-5.3,-21.1,-5.1,-21.3,-4.6,-21.6,-4.1,-21.1,-3.6,-21.4,-2.9,-21.7,-2.1,-21.5,-1.2,-21.3,-3.7,-22.3,-3.2,-22,-3.1,-22.7,-2.7,-22.7,-2.4,-23.1,-2.7,-23.3,-1.8,-23.2,-.2,-22.9,-1.8,-23.7,-13.5,-22.6,-13.9,-23.5,-15.6,-23.7,-4.4,-23.4,-.6,-23.9,-1.1,-24.2,-7.2,-25.5,-5.2,-25.1,-5.1,-25.8,-3.6,-25.6,-2,-27,-1.1,-26.6,-.8,-26.8,-.4,-31.7,-2.3,-33,
9.2,-4.2,10.9,-5,11.7,-4.6,11.5,-5.6,14.2,-5,16,-4.8,18.9,-5.3,7.3,-6.2,7.8,-5.9,11.2,-6.8,5.9,-6.7,6.4,-7.3,3.6,-7.6,5.4,-7.9,8.8,-7.8,2.4,-7.9,2.3,-8.4,.8,-8.4,1.1,-8.6,6.8,-8.5,6.9,-8.9,8.1,-8.4,2.9,-8.9,7.5,-9.5,7.8,-9.9,8.5,-9.5,10.1,-9.9,10,-10.7,8.7,-11.3,10.7,-11.6,4.1,-10.8,4.3,-11.5,3.6,-11.6,5,-11.2,6,-11.2,2.5,-11.5,2.9,-12,3.8,-12.1,4.1,-12.4,4.9,-12,5.5,-12.2,5.9,-12.2,2.2,-12.8,7,-12.8,3.8,-13.1,9.7,-12.1,9.4,-12.9,11.1,-12.9,11.2,-13.9,13.1,-13.7,13.5,-14.3,14.3,-15.2,15.4,-13.7,15.8,-14.4,20.3,-13.5,3.6,-13.7,3.2,-14,3.3,-14.7,5.9,-14.3,1.1,-13.8,.5,-14.1,.1,-13.5,-.1,-14.4,4.1,-14.8,4.3,-15.4,4.6,-15.3,7.1,-14.7,6.7,-15.3,1,-14.9,.5,-15.1,1.7,-15,1.7,-15.4,.6,-15.5,.1,-15.5,9.9,-15.8,15.2,-16,7.7,-16.2,2.1,-16.4,9.1,-16.7,9,-17.2,8.6,-17.4,8.2,-17.6,10.9,-16.9,11.1,-16.9,1.5,-17,.1,-17.3,.5,-17.5,2,-17.7,1.6,-18.2,3.3,-17.7,3,-18.1,3.2,-18.4,5.8,-17.5,10.3,-17.6,10.3,-18.3,10.2,-19.3,9.4,-18.3,8.9,-19.3,12,-17.8,11.8,-18.3,12.3,-18.3,22,-17.6,13,-18.7,13.5,-18.9,13.3,-19,6.9,-18.4,7,-19.4,5.3,-18.6,1.3,-18.5,.3,-18.8,.7,-19,-.1,-18.5,3.4,-19.1,20.2,-19.3,1.5,-19.6,.9,-19.6,.6,-20,1.7,-20.4,22.4,-20.5,5.5,-20.8,8.5,-21,8.3,-21.5,8.4,-21.9,.5,-21.3,.8,-21.1,1.1,-20.8,4.3,-21.2,6.5,-21.2,13.6,-21.2,18.6,-21.4,21.4,-21.1,21,-21.5,21,-22.2,10.6,-21.7,4.3,-22.1,5.8,-22,7.1,-22,12.3,-22.1,12.3,-22.9,18.9,-22.2,2.7,-22.4,1.7,-22.8,8.2,-22.9,9.8,-22.6,4.6,-23.2,2.8,-23.4,3.3,-23.4,7.1,-23.9,9.2,-24,7.9,-24.2,11.3,-24.7,5.1,-24.5,5.3,-24.6,5,-25,4,-25,1.4,-24.8,6.1,-25.4,7.3,-25.4,8.1,-25.1,8.3,-25.1,13,-25.2,12.9,-25.6,4.3,-25.5,4.7,-26,4.3,-26,2.5,-25.8,3.3,-26.1,9.3,-25.6,9.4,-26,11.2,-25.8,8.7,-26.6,9.6,-26.8,2.3,-26.9,14.9,-26.7,16.5,-27.1,3.9,-27.8,4.4,-27.9,9.1,-27.7,9,-28.4,8.6,-28,8.3,-28.2,9.3,-28.3,10.8,-28,6,-28.9,7.6,-29.2,.4,-29.9,.8,-31.1,3.2,-31.8,7.5,-31.3,10.2,-32.7,9.8,-33,12.2,-32.4];
// cluster outlines: [centre x, centre y, half width, half height, y offset at the right-most point]
const trainOutlines=[[.15,19,15.15,15.4,-7.35,"#FFC000"],[-4.55,3.75,13.95,12.63,-3.2,"#0070C0"],[3.65,-20.2,23.25,18.25,-5.2,"#7F7F7F"]];
const testOutlines=[[-1,20.35,15.3,14.33,-7.85,"#FFC000"],[-4.7,5.4,14,12.6,-3.2,"#0070C0"],[4.35,-17.35,23.55,17.75,3.5,"#7F7F7F"]];

const pairs=a=>{const r=[];for(let i=0;i+1<a.length;i+=2)r.push([a[i],a[i+1]]);return r};
const outline=o=>{const r=[],k=Math.sqrt(o[3]*o[3]-o[4]*o[4]);for(let i=0;i<=180;i++){const t=i/180*2*Math.PI;r.push([o[0]+o[2]*Math.cos(t),o[1]+o[4]*Math.cos(t)+k*Math.sin(t)])}return r};
const neg=v=>String(v).replace('-','\u2212');
const tickFont={fontFamily:'"Liberation Sans",Arial,sans-serif',fontSize:27,color:'#4a4a4a'};
const mkAxis=(min,max,ticks,margin)=>({type:'value',min,max,
  axisLine:{show:false},
  axisTick:{show:false,customValues:ticks},
  splitLine:{show:true,customValues:ticks,lineStyle:{color:'#fff',width:2.5}},
  axisLabel:{customValues:ticks,margin,formatter:neg,...tickFont}});
const grids=[{left:106,top:50,width:1565,height:1199,show:true,backgroundColor:'#EAEAF2',borderWidth:0},
             {left:1987,top:50,width:1563,height:1199,show:true,backgroundColor:'#EAEAF2',borderWidth:0}];
const xAxes=[{...mkAxis(-25.28,26.7,xTicks,20),gridIndex:0},{...mkAxis(-25.0,27.27,xTicks,20),gridIndex:1}];
const yAxes=[{...mkAxis(-40.14,33.96,yTicks,14),gridIndex:0},{...mkAxis(-40.14,33.96,yTicks,14),gridIndex:1}];
const series=[];
[[trainMac,trainWin,trainBase,trainHockey],[testMac,testWin,testBase,testHockey]].forEach((set,g)=>{
  set.forEach((vals,i)=>series.push({type:'scatter',name:categories[i],xAxisIndex:g,yAxisIndex:g,data:pairs(vals),symbolSize:16.5,z:2,
    itemStyle:{color:colors[i],borderColor:'#fff',borderWidth:1,opacity:1},silent:true,animation:false}));
  (g?testOutlines:trainOutlines).forEach(o=>series.push({type:'line',xAxisIndex:g,yAxisIndex:g,data:outline(o),showSymbol:false,clip:false,z:10,
    lineStyle:{color:o[5],width:4.5},silent:true,animation:false}));
});
const mkLegend=(left)=>({left,top:1022,orient:'vertical',data:categories.map(n=>({name:n,icon:'circle'})),selectedMode:false,z:4,
  backgroundColor:'rgba(234,234,242,.8)',borderColor:'#cfcfd6',borderWidth:1.5,borderRadius:5,padding:[51,17,10,17],
  itemWidth:52,itemHeight:20,itemGap:11.7,
  textStyle:{fontFamily:'"Liberation Sans",Arial,sans-serif',fontSize:29.5,color:'#4a4a4a',lineHeight:30,padding:[0,0,0,26]}});
const capStyle={fontFamily:'"Liberation Serif","DejaVu Serif",serif',fontSize:84,fill:'#000'};
const caption=(x,letter,rest)=>({type:'text',left:'auto',x,y:1450,z:20,style:{text:`{n|(}{b|${letter}}{n|) ${rest}}`,align:'center',verticalAlign:'middle',
  rich:{n:{...capStyle,fill:'#000'},b:{...capStyle,fill:'#000',fontWeight:'bold'}}}});
const legendTitle=(x,t)=>({type:'text',x,y:1048,z:20,style:{text:t,align:'center',verticalAlign:'middle',fontFamily:'"Liberation Sans",Arial,sans-serif',fontSize:30,fill:'#4a4a4a'}});
const chart=echarts.init(document.getElementById('c'),null,{renderer:'canvas',width:3608,height:1523});
chart.setOption({animation:false,backgroundColor:'#fff',grid:grids,xAxis:xAxes,yAxis:yAxes,legend:[mkLegend(121),mkLegend(2000)],series,
  graphic:[caption(886,'a','Training set document clustering'),caption(2775,'b','Test set document clustering'),legendTitle(346,'train_30'),legendTitle(2224,'test_30')]});
</script></body></html>
